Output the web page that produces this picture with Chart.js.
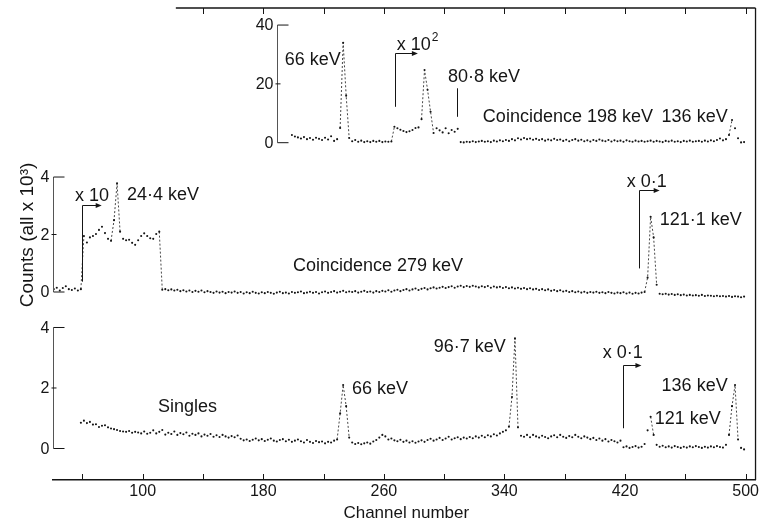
<!DOCTYPE html>
<html>
<head>
<meta charset="utf-8">
<script src="https://cdn.jsdelivr.net/npm/chart.js@4.4.1/dist/chart.umd.min.js"></script>
<style>
  html, body { margin: 0; padding: 0; background: #ffffff; }
  #wrap { width: 761px; height: 525px; }
</style>
</head>
<body>
<div id="wrap"><canvas id="c" width="761" height="525"></canvas></div>
<script>
// ---------------- DATA ----------------
const CH_STEP = 2;

// Coincidence 198 keV (top panel), first channel 199
const topStart = 199;
const topValues = [
  2.6, 2.1, 1.8, 1.4, 1.9, 1.2, 1.6, 1.0, 1.7, 1.3,
  0.9, 1.7, 1.1, 2.2, 0.6, 1.2, 5.0, 34.0, 16.0, 1.6,
  0.5, 0.9, 0.3, 0.7, 0.2, 0.5, 0.2, 0.6, 0.3, 0.6,
  0.2, 0.4, 0.3, 0.4, 5.4, 4.9, 4.4, 4.0, 3.6, 3.9,
  4.3, 5.0, 5.2, 8.0, 24.7, 18.0, 10.5, 3.3, 4.9, 4.2,
  3.5, 4.9, 3.2, 4.3, 3.7, 4.7, 0.2, 0.1, 0.3, 0.2,
  0.5, 0.2, 0.4, 0.6, 0.3, 0.5, 0.2, 0.7, 0.4, 0.8,
  0.5, 0.9, 0.6, 1.2, 0.8, 1.5, 1.1, 1.6, 1.2, 1.4,
  1.0, 1.3, 0.9, 1.2, 0.7, 1.1, 0.8, 1.3, 0.9, 1.1,
  0.6, 1.0, 0.5, 0.9, 1.2, 0.7, 1.0, 0.5, 0.8, 0.4,
  0.9, 0.6, 1.1, 0.7, 0.5, 0.9, 0.4, 0.8, 0.5, 0.7,
  0.3, 0.8, 0.5, 0.3, 0.7, 0.4, 0.6, 0.3, 0.5, 0.7,
  0.3, 0.6, 0.4, 0.2, 0.6, 0.4, 0.7, 0.3, 0.5, 0.2,
  0.6, 0.4, 0.7, 0.3, 0.5, 0.6, 0.3, 0.7, 0.4, 0.8,
  0.5, 0.9, 1.4, 0.8, 1.2, 2.6, 7.7, 4.9, 1.5, 0.1,
  0.2
];

// Coincidence 279 keV (middle panel), first channel 41
const midStart = 41;
const midValues = [
  0.10, 0.15, 0.05, 0.14, 0.20, 0.10, 0.07, 0.12, 0.05, 0.10,
  1.95, 1.72, 1.90, 1.95, 2.02, 2.16, 2.27, 2.05, 1.85, 1.78,
  2.50, 3.78, 2.10, 1.85, 1.80, 1.82, 1.71, 1.64, 1.80, 1.95,
  2.04, 1.95, 1.87, 1.85, 2.02, 2.10, 0.08, 0.10, 0.06, 0.09,
  0.05, 0.08, 0.03, 0.06, 0.02, 0.05, 0.00, 0.04, 0.01, 0.05,
  -0.01, 0.03, 0.00, -0.03, 0.02, -0.02, 0.01, -0.04, 0.00, -0.02,
  0.02, -0.03, 0.00, -0.05, -0.01, -0.04, 0.01, -0.03, -0.05, -0.01,
  -0.04, 0.00, -0.03, -0.06, -0.02, 0.01, -0.04, -0.02, -0.05, 0.00,
  -0.03, -0.01, 0.02, -0.04, -0.02, 0.01, -0.03, 0.00, -0.05, -0.01,
  0.02, -0.03, 0.00, 0.03, -0.02, 0.01, 0.04, -0.01, 0.02, 0.00,
  0.03, -0.02, 0.01, 0.04, 0.00, 0.02, -0.02, 0.03, 0.00, 0.04,
  0.02, 0.06, 0.01, 0.05, 0.08, 0.03, 0.07, 0.10, 0.05, 0.09,
  0.12, 0.07, 0.11, 0.14, 0.09, 0.13, 0.16, 0.12, 0.15, 0.18,
  0.14, 0.17, 0.20, 0.15, 0.19, 0.22, 0.17, 0.21, 0.18, 0.22,
  0.19, 0.16, 0.20, 0.17, 0.21, 0.15, 0.19, 0.16, 0.18, 0.14,
  0.17, 0.13, 0.16, 0.12, 0.15, 0.11, 0.14, 0.10, 0.13, 0.09,
  0.11, 0.07, 0.10, 0.06, 0.09, 0.04, 0.07, 0.03, 0.06, 0.02,
  0.04, 0.00, 0.03, -0.01, 0.02, -0.02, 0.01, -0.03, 0.00, -0.02,
  0.01, -0.03, -0.01, -0.04, 0.00, -0.03, -0.05, -0.02, -0.04, -0.01,
  -0.05, -0.02, -0.06, -0.03, -0.05, -0.02, 0.00, 0.50, 2.62, 1.90,
  0.25, -0.06, -0.08, -0.06, -0.09, -0.07, -0.10, -0.08, -0.11, -0.09,
  -0.12, -0.10, -0.12, -0.11, -0.13, -0.10, -0.14, -0.12, -0.13, -0.15,
  -0.13, -0.15, -0.14, -0.16, -0.14, -0.17, -0.15, -0.16, -0.18, -0.16
];

// Singles (bottom panel), first channel 59
const botStart = 59;
const botValues = [
  0.85, 0.92, 0.84, 0.88, 0.79, 0.80, 0.71, 0.75, 0.77, 0.70,
  0.66, 0.64, 0.61, 0.58, 0.56, 0.55, 0.58, 0.52, 0.55, 0.53,
  0.50, 0.56, 0.49, 0.52, 0.60, 0.50, 0.55, 0.61, 0.46, 0.52,
  0.48, 0.56, 0.45, 0.51, 0.47, 0.53, 0.42, 0.49, 0.45, 0.50,
  0.40, 0.46, 0.42, 0.48, 0.39, 0.44, 0.38, 0.45, 0.40, 0.36,
  0.41, 0.37, 0.43, 0.32, 0.27, 0.30, 0.25, 0.29, 0.33, 0.27,
  0.31, 0.25, 0.29, 0.33, 0.26, 0.23, 0.28, 0.31, 0.24, 0.29,
  0.22, 0.26, 0.30, 0.24, 0.20, 0.28, 0.22, 0.18, 0.25, 0.21,
  0.23, 0.17, 0.22, 0.20, 0.26, 0.30, 1.16, 2.10, 1.40, 0.36,
  0.20, 0.15, 0.18, 0.14, 0.17, 0.20, 0.16, 0.23, 0.28, 0.36,
  0.45, 0.40, 0.30, 0.33, 0.27, 0.24, 0.29, 0.22, 0.26, 0.20,
  0.24, 0.19, 0.23, 0.27, 0.22, 0.28, 0.32, 0.26, 0.30, 0.35,
  0.28, 0.33, 0.39, 0.30, 0.34, 0.37, 0.31, 0.36, 0.33, 0.38,
  0.34, 0.40, 0.36, 0.42, 0.37, 0.44, 0.40, 0.47, 0.43, 0.50,
  0.55, 0.60, 0.72, 1.70, 3.64, 0.70, 0.42, 0.39, 0.45, 0.37,
  0.45, 0.40, 0.36, 0.42, 0.38, 0.34, 0.40, 0.44, 0.37, 0.45,
  0.39, 0.35, 0.41, 0.37, 0.45, 0.39, 0.34, 0.40, 0.36, 0.31,
  0.35, 0.28, 0.33, 0.26, 0.31, 0.23, 0.28, 0.24, 0.20, 0.26,
  0.04, 0.07, 0.02, 0.05, 0.08, 0.03, 0.06, 0.15, 0.60, 1.05,
  0.45, 0.12, 0.06, 0.09, 0.04, 0.07, 0.03, 0.08, 0.05, 0.02,
  0.06, 0.03, 0.07, 0.04, 0.08, 0.05, 0.02, 0.06, 0.03, 0.07,
  0.04, 0.08, 0.05, 0.03, 0.12, 0.45, 1.40, 2.10, 0.30, 0.02,
  -0.03
];

// tick labels
const xTickLabels = [100, 180, 260, 340, 420, 500];
const xMinorTicks = [60, 100, 140, 180, 220, 260, 300, 340, 380, 420, 460, 500];
const topBorderTicks = [140, 180, 220, 260, 300, 340, 380, 420, 460, 500];
const topYTicks = [0, 20, 40];
const midYTicks = [0, 2, 4];
const botYTicks = [0, 2, 4];

// text annotations (anchored in channel / panel value)
const notes = [
  { t: '66 keV', ch: 231.4, v: 28.1, ax: 'yTop', al: 'right' },
  { t: 'x 10', sup: '2', ch: 268.6, v: 33.2, ax: 'yTop', al: 'left' },
  { t: '80·8 keV', ch: 302.5, v: 22.3, ax: 'yTop', al: 'left' },
  { t: 'Coincidence 198 keV', ch: 325.7, v: 8.6, ax: 'yTop', al: 'left' },
  { t: '136 keV', ch: 488.1, v: 8.6, ax: 'yTop', al: 'right' },
  { t: 'x 10', ch: 55.1, v: 3.34, ax: 'yMid', al: 'left' },
  { t: '24·4 keV', ch: 89.6, v: 3.37, ax: 'yMid', al: 'left' },
  { t: 'Coincidence 279 keV', ch: 199.7, v: 0.9, ax: 'yMid', al: 'left' },
  { t: 'x 0·1', ch: 421.2, v: 3.84, ax: 'yMid', al: 'left' },
  { t: '121·1 keV', ch: 443, v: 2.5, ax: 'yMid', al: 'left' },
  { t: 'Singles', ch: 110.1, v: 1.37, ax: 'yBot', al: 'left' },
  { t: '66 keV', ch: 238.8, v: 1.97, ax: 'yBot', al: 'left' },
  { t: '96·7 keV', ch: 340.9, v: 3.34, ax: 'yBot', al: 'right' },
  { t: 'x 0·1', ch: 405.2, v: 3.16, ax: 'yBot', al: 'left' },
  { t: '121 keV', ch: 439.7, v: 0.98, ax: 'yBot', al: 'left' },
  { t: '136 keV', ch: 488.1, v: 2.08, ax: 'yBot', al: 'right' }
];
// scale-change brackets with arrows
const brackets = [
  { ch: 267.3, vLow: 12.2, vTop: 30.5, chEnd: 282.6, ax: 'yTop' },
  { ch: 59.6, vLow: 0.36, vTop: 3.03, chEnd: 72.8, ax: 'yMid' },
  { ch: 429.1, vLow: 0.82, vTop: 3.55, chEnd: 443, ax: 'yMid' },
  { ch: 419, vLow: 0.67, vTop: 2.75, chEnd: 430.9, ax: 'yBot' }
];
const markers = [ { ch: 308.8, vLow: 8.8, vTop: 18.5, ax: 'yTop' } ];
const panelAxes = [
  { ax: 'yTop', ch: 188.9, ticks: topYTicks },
  { ax: 'yMid', ch: 40.6, ticks: midYTicks },
  { ax: 'yBot', ch: 40.6, ticks: botYTicks }
];

// ---------------- CHART ----------------
const FONT = '"Liberation Sans", Arial, sans-serif';
const INK = '#151515';

function toPoints(start, vals) {
  return vals.map((v, i) => ({ x: start + CH_STEP * i, y: v }));
}

function seriesStyle() {
  return {
    showLine: true,
    borderWidth: 0.9,
    borderDash: [2, 2],
    borderColor: '#333',
    segment: {
      borderColor: c => Math.abs(c.p1.y - c.p0.y) > 14 ? '#333' : 'rgba(0,0,0,0)'
    },
    pointRadius: 1.05,
    pointBorderWidth: 0,
    pointBackgroundColor: INK,
    pointHoverRadius: 0,
    tension: 0
  };
}

function line(ctx, x1, y1, x2, y2) {
  ctx.beginPath(); ctx.moveTo(x1, y1); ctx.lineTo(x2, y2); ctx.stroke();
}

const decor = {
  id: 'decor',
  afterDraw(chart) {
    const ctx = chart.ctx;
    const xs = chart.scales.x;
    const a = chart.chartArea;
    ctx.save();
    ctx.strokeStyle = INK;
    ctx.fillStyle = INK;
    ctx.lineWidth = 1.3;
    // top frame line and right frame line
    line(ctx, xs.getPixelForValue(122), a.top, a.right, a.top);
    line(ctx, a.right, a.top, a.right, a.bottom);
    ctx.lineWidth = 1;
    topBorderTicks.forEach(c => {
      const px = Math.round(xs.getPixelForValue(c)) + 0.5;
      line(ctx, px, a.top, px, a.top + 6);
    });
    xMinorTicks.forEach(c => {
      const px = Math.round(xs.getPixelForValue(c)) + 0.5;
      line(ctx, px, a.bottom, px, a.bottom - 6);
    });

    // panel y axes
    ctx.font = '16px ' + FONT;
    panelAxes.forEach(p => {
      const ys = chart.scales[p.ax];
      const x = Math.round(xs.getPixelForValue(p.ch)) + 0.5;
      const y0 = ys.getPixelForValue(p.ticks[0]);
      const y1 = ys.getPixelForValue(p.ticks[p.ticks.length - 1]);
      ctx.strokeStyle = '#555';
      ctx.lineWidth = 1;
      line(ctx, x, y0, x, y1);
      ctx.strokeStyle = INK;
      line(ctx, x, y0, x + 11, y0);
      line(ctx, x, y1, x + 11, y1);
      p.ticks.slice(1, -1).forEach(t => {
        const y = ys.getPixelForValue(t);
        line(ctx, x - 2, y, x + 3, y);
      });
      ctx.textAlign = 'right';
      ctx.textBaseline = 'middle';
      p.ticks.forEach(t => {
        ctx.fillText(String(t), x - 4, ys.getPixelForValue(t) + 1);
      });
    });

    // brackets with arrows
    ctx.lineWidth = 1;
    ctx.strokeStyle = INK;
    brackets.forEach(b => {
      const ys = chart.scales[b.ax];
      const x = Math.round(xs.getPixelForValue(b.ch)) + 0.5;
      const yl = ys.getPixelForValue(b.vLow);
      const yt = Math.round(ys.getPixelForValue(b.vTop)) + 0.5;
      const xe = xs.getPixelForValue(b.chEnd);
      line(ctx, x, yl, x, yt);
      line(ctx, x, yt, xe - 4, yt);
      ctx.beginPath();
      ctx.moveTo(xe, yt); ctx.lineTo(xe - 6, yt - 2.5); ctx.lineTo(xe - 6, yt + 2.5);
      ctx.closePath(); ctx.fill();
    });
    markers.forEach(m => {
      const ys = chart.scales[m.ax];
      const x = Math.round(xs.getPixelForValue(m.ch)) + 0.5;
      line(ctx, x, ys.getPixelForValue(m.vLow), x, ys.getPixelForValue(m.vTop));
    });

    // annotation texts
    ctx.textBaseline = 'middle';
    notes.forEach(n => {
      const ys = chart.scales[n.ax];
      const x = xs.getPixelForValue(n.ch);
      const y = ys.getPixelForValue(n.v);
      ctx.font = '18px ' + FONT;
      ctx.textAlign = n.al;
      ctx.fillText(n.t, x, y);
      if (n.sup) {
        const w = ctx.measureText(n.t).width;
        ctx.font = '12px ' + FONT;
        ctx.textAlign = 'left';
        ctx.fillText(n.sup, x + w + 1, y - 7);
      }
    });

    // axis titles
    ctx.font = '17px ' + FONT;
    ctx.textAlign = 'center';
    ctx.textBaseline = 'middle';
    ctx.fillText('Channel number', (a.left + a.right) / 2 + 2, 513);
    ctx.save();
    ctx.translate(28, 235);
    ctx.rotate(-Math.PI / 2);
    ctx.font = '19px ' + FONT;
    ctx.fillText('Counts (all x 10³)', 0, 0);
    ctx.restore();

    ctx.restore();
  }
};

new Chart(document.getElementById('c'), {
  type: 'scatter',
  data: {
    datasets: [
      Object.assign({ label: 'Coincidence 198 keV', data: toPoints(topStart, topValues), yAxisID: 'yTop' }, seriesStyle()),
      Object.assign({ label: 'Coincidence 279 keV', data: toPoints(midStart, midValues), yAxisID: 'yMid' }, seriesStyle()),
      Object.assign({ label: 'Singles', data: toPoints(botStart, botValues), yAxisID: 'yBot' }, seriesStyle())
    ]
  },
  options: {
    responsive: false,
    animation: false,
    events: [],
    layout: { padding: { left: 53, right: 5, top: 8, bottom: 0 } },
    plugins: { legend: { display: false }, tooltip: { enabled: false } },
    scales: {
      x: {
        type: 'linear',
        position: 'bottom',
        min: 40.5,
        max: 506.6,
        afterBuildTicks: s => { s.ticks = xTickLabels.map(v => ({ value: v })); },
        afterFit: s => { s.height = 45; },
        grid: { display: false, drawTicks: false },
        border: { display: true, color: INK, width: 1.4 },
        ticks: { padding: 2, color: INK, font: { family: FONT, size: 16 }, maxRotation: 0, autoSkip: false }
      },
      yTop: { type: 'linear', display: false, min: -114.7, max: 45.8 },
      yMid: { type: 'linear', display: false, min: -6.54, max: 9.88 },
      yBot: { type: 'linear', display: false, min: -1.041, max: 14.56 }
    }
  },
  plugins: [decor]
});
</script>
</body>
</html>
